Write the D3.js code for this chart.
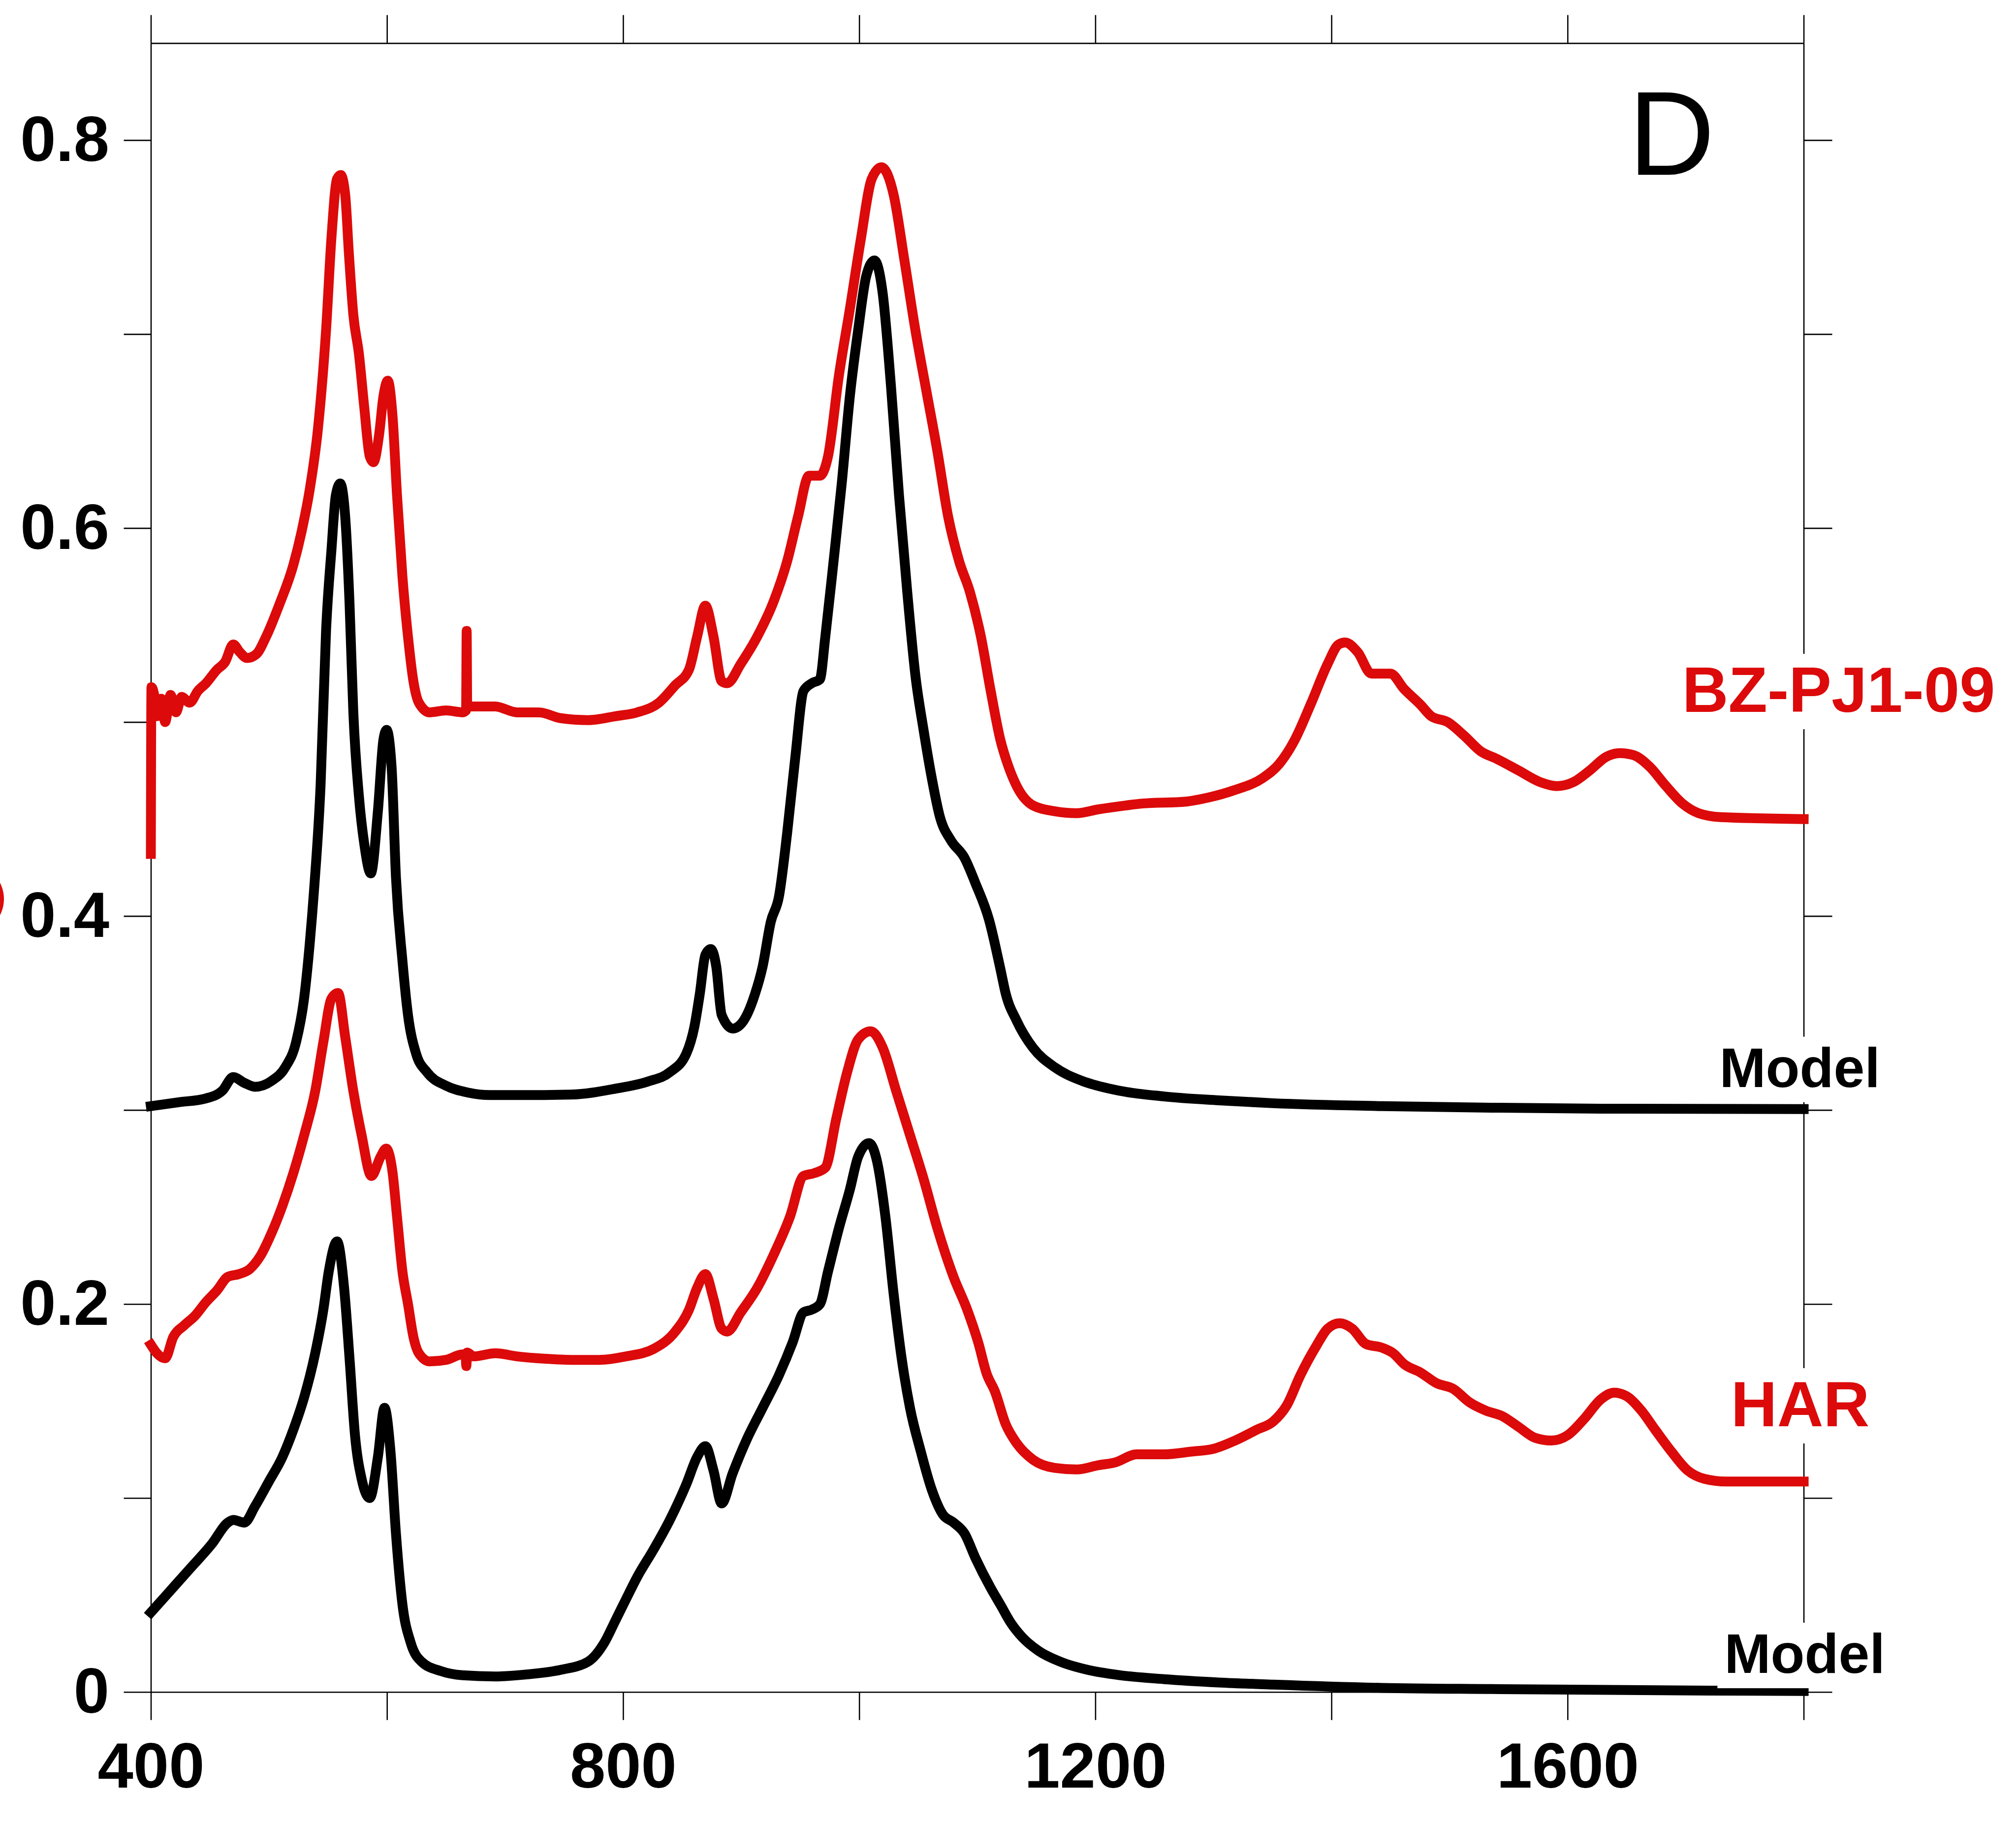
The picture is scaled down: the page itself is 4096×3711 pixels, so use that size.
<!DOCTYPE html>
<html>
<head>
<meta charset="utf-8">
<script src="https://cdn.jsdelivr.net/npm/d3@7"></script>
<style>
  html, body { margin: 0; padding: 0; background: #fff; }
  svg { display: block; }
  .axis path, .axis line { stroke: #000; stroke-width: 2.6; }
  .axis text { font-family: Arial, "Liberation Sans", sans-serif; font-weight: bold; font-size: 130px; fill: #000; }
</style>
</head>
<body>
<svg id="chart"></svg>
<script>
// tick values
var xTicks = [400, 600, 800, 1000, 1200, 1400, 1600, 1800];
var xLabels = [400, 800, 1200, 1600];
var yTicks = [0, 0.1, 0.2, 0.3, 0.4, 0.5, 0.6, 0.7, 0.8];
var yLabels = [0, 0.2, 0.4, 0.6, 0.8];

// series names, top to bottom
var seriesNames = ["BZ-PJ1-09", "Model", "HAR", "Model"];

// [wavenumber, absorbance]
var bzPJ109 = [
  [400, 0.432], [400.5, 0.518], [402.8, 0.514], [405.1, 0.503], [408.8, 0.512], [412.1, 0.500],
  [416.7, 0.514], [421.3, 0.505], [426.0, 0.513], [432.9, 0.510], [439.8, 0.516], [446.7, 0.520],
  [456.0, 0.527], [462.9, 0.531], [469.8, 0.540], [475.4, 0.536], [481.4, 0.533], [489.3, 0.535],
  [497.6, 0.544], [509.1, 0.561], [520.7, 0.581], [527.6, 0.598], [534.6, 0.620], [541.5, 0.651],
  [548.4, 0.702], [553.0, 0.750], [557.7, 0.780], [560.9, 0.782], [564.6, 0.772], [567.8, 0.741],
  [571.5, 0.710], [576.2, 0.690], [580.8, 0.662], [585.4, 0.637], [588.6, 0.634], [593.3, 0.648],
  [597.0, 0.668], [600.7, 0.676], [604.8, 0.657], [608.5, 0.617], [613.1, 0.575], [617.8, 0.544],
  [622.4, 0.521], [627.0, 0.510], [636.2, 0.505], [650.1, 0.506], [664.0, 0.505], [667.0, 0.506],
  [667.5, 0.547], [668.0, 0.508], [682.5, 0.508], [691.7, 0.508], [710.2, 0.505], [728.7, 0.505],
  [747.2, 0.502], [770.3, 0.501], [793.4, 0.503], [811.9, 0.505], [830.4, 0.510], [844.2, 0.519],
  [855.8, 0.527], [862.7, 0.544], [869.7, 0.560], [876.6, 0.544], [883.5, 0.521], [888.1, 0.520],
  [899.7, 0.530], [913.6, 0.544], [927.4, 0.562], [939.0, 0.583], [948.2, 0.606], [957.5, 0.627],
  [966.7, 0.627], [973.6, 0.637], [982.9, 0.679], [992.1, 0.713], [1001.4, 0.749], [1010.6, 0.780],
  [1018.9, 0.786], [1029.1, 0.772], [1038.3, 0.738], [1047.6, 0.702], [1056.8, 0.671], [1066.1, 0.640],
  [1075.3, 0.606], [1084.6, 0.583], [1093.8, 0.567], [1103.1, 0.544], [1111.4, 0.516], [1119.5, 0.491],
  [1126.5, 0.477], [1133.4, 0.467], [1147.3, 0.457], [1165.7, 0.454], [1184.2, 0.453], [1202.7, 0.455],
  [1225.8, 0.457], [1239.7, 0.458], [1276.7, 0.459], [1295.2, 0.461], [1318.3, 0.465], [1341.4, 0.471],
  [1355.2, 0.478], [1369.1, 0.491], [1383.0, 0.510], [1396.8, 0.530], [1406.1, 0.540], [1411.6, 0.541],
  [1422.3, 0.536], [1433.8, 0.525], [1450.0, 0.525], [1461.6, 0.517], [1475.4, 0.509], [1484.6, 0.503],
  [1498.5, 0.500], [1512.4, 0.493], [1526.3, 0.485], [1540.1, 0.481], [1558.6, 0.475], [1577.1, 0.469],
  [1591.0, 0.467], [1604.8, 0.469], [1618.7, 0.475], [1632.6, 0.482], [1644.1, 0.484], [1655.7, 0.483],
  [1669.5, 0.477], [1683.4, 0.467], [1697.3, 0.458], [1711.1, 0.453], [1729.6, 0.451], [1800, 0.450]
];

var modelUpper = [
  [400, 0.302], [423.6, 0.304], [446.7, 0.306], [460.6, 0.310], [469.8, 0.317], [479.1, 0.314],
  [488.3, 0.312], [502.2, 0.315], [513.8, 0.322], [523.0, 0.335], [529.9, 0.358], [534.6, 0.386],
  [538.3, 0.414], [543.8, 0.468], [548.4, 0.547], [553.0, 0.589], [556.7, 0.617], [560.4, 0.623],
  [564.6, 0.606], [568.3, 0.561], [571.5, 0.505], [576.2, 0.462], [580.8, 0.437], [586.3, 0.422],
  [592.3, 0.454], [597.0, 0.491], [599.7, 0.496], [603.9, 0.477], [607.6, 0.420], [613.1, 0.377],
  [617.8, 0.349], [624.7, 0.329], [633.9, 0.3195], [650.1, 0.3125], [668.6, 0.309], [687.1, 0.3077],
  [710.2, 0.3077], [756.4, 0.308], [793.4, 0.311], [821.1, 0.3147], [839.6, 0.3195], [853.5, 0.329],
  [860.4, 0.343], [865.0, 0.360], [869.7, 0.380], [874.3, 0.383], [878.9, 0.374], [883.5, 0.349],
  [892.8, 0.342], [902.0, 0.346], [911.3, 0.359], [918.2, 0.374], [925.1, 0.397], [932.0, 0.410],
  [939.0, 0.443], [945.9, 0.482], [952.8, 0.516], [959.8, 0.520], [966.7, 0.522], [971.3, 0.544],
  [978.3, 0.583], [985.2, 0.623], [992.1, 0.668], [999.1, 0.702], [1006.0, 0.730], [1012.9, 0.738],
  [1019.9, 0.721], [1026.8, 0.674], [1033.7, 0.617], [1040.7, 0.567], [1047.6, 0.524], [1054.5, 0.496],
  [1061.5, 0.471], [1068.4, 0.451], [1077.7, 0.439], [1089.2, 0.430], [1098.4, 0.417], [1110.0, 0.398],
  [1119.5, 0.373], [1124.1, 0.360], [1133.4, 0.346], [1147.3, 0.332], [1165.7, 0.322], [1188.9, 0.315],
  [1212.0, 0.311], [1258.2, 0.307], [1304.4, 0.305], [1350.6, 0.3035], [1443.1, 0.302], [1535.5, 0.3012],
  [1627.9, 0.3007], [1800, 0.3005]
];

var har = [
  [400, 0.179], [405.1, 0.1746], [412.1, 0.172], [419.0, 0.183], [428.3, 0.189], [437.5, 0.194],
  [446.7, 0.201], [456.0, 0.207], [465.2, 0.214], [474.5, 0.2154], [483.7, 0.218], [493.0, 0.225],
  [502.2, 0.2365], [511.4, 0.2506], [520.7, 0.2675], [529.9, 0.2871], [539.2, 0.3097], [546.1, 0.335],
  [553.0, 0.3575], [558.6, 0.3603], [564.6, 0.3378], [571.5, 0.3097], [578.5, 0.2871], [586.8, 0.266],
  [594.6, 0.2759], [599.3, 0.2801], [604.8, 0.2675], [608.5, 0.245], [613.1, 0.2168], [617.8, 0.200],
  [622.4, 0.183], [627.0, 0.1746], [636.2, 0.1704], [650.1, 0.1712], [664.0, 0.174], [666.5, 0.174],
  [667.2, 0.168], [668.0, 0.175], [673.2, 0.173], [691.7, 0.1746], [710.2, 0.173], [733.3, 0.1718],
  [756.4, 0.1712], [779.5, 0.1712], [802.6, 0.173], [825.7, 0.1768], [844.2, 0.1858], [855.8, 0.197],
  [862.7, 0.2083], [869.7, 0.2154], [876.6, 0.2027], [883.5, 0.1873], [888.1, 0.1858], [899.7, 0.1957],
  [913.6, 0.2083], [927.4, 0.2252], [941.3, 0.2449], [952.8, 0.266], [962.1, 0.2675], [971.3, 0.2703],
  [980.6, 0.2956], [989.8, 0.3195], [999.1, 0.3364], [1009.7, 0.3406], [1019.9, 0.3322], [1031.4, 0.3097],
  [1043.0, 0.2871], [1054.5, 0.2646], [1066.1, 0.2393], [1079.9, 0.214], [1091.5, 0.197], [1100.8, 0.1802],
  [1108.0, 0.164], [1114.9, 0.155], [1124.1, 0.138], [1133.4, 0.1282], [1147.3, 0.1197], [1165.7, 0.1155],
  [1184.2, 0.1147], [1202.7, 0.1169], [1216.6, 0.1183], [1235.1, 0.1225], [1258.2, 0.1225], [1281.3, 0.1239],
  [1299.8, 0.1253], [1318.3, 0.1296], [1336.8, 0.1352], [1350.6, 0.1394], [1362.2, 0.1478], [1373.7, 0.1633],
  [1387.6, 0.1788], [1396.8, 0.1873], [1407.0, 0.1901], [1417.6, 0.1873], [1429.2, 0.1794], [1443.1, 0.1774],
  [1452.3, 0.1746], [1461.6, 0.169], [1475.4, 0.1647], [1489.3, 0.1591], [1503.1, 0.1563], [1517.0, 0.1493],
  [1530.9, 0.145], [1544.7, 0.1422], [1558.6, 0.1366], [1572.5, 0.131], [1586.3, 0.1296], [1600.2, 0.1324],
  [1614.1, 0.1408], [1627.9, 0.1507], [1639.5, 0.1543], [1651.0, 0.1521], [1662.6, 0.145], [1674.2, 0.1352],
  [1688.0, 0.1239], [1701.9, 0.1141], [1715.8, 0.1099], [1734.2, 0.1085], [1800, 0.1085]
];

var modelLower = [
  [400, 0.041], [414.4, 0.0508], [432.9, 0.0634], [451.4, 0.0761], [465.2, 0.0873], [469.8, 0.0887],
  [479.1, 0.0873], [488.3, 0.0958], [499.9, 0.1084], [511.4, 0.1211], [520.7, 0.1352], [529.9, 0.152],
  [539.2, 0.1746], [546.1, 0.197], [550.7, 0.2168], [557.7, 0.2323], [563.7, 0.2083], [568.3, 0.1718],
  [572.9, 0.1324], [578.5, 0.1099], [585.4, 0.100], [592.3, 0.1211], [597.9, 0.1465], [603.0, 0.1239],
  [607.6, 0.0817], [613.1, 0.0451], [620.1, 0.0254], [629.3, 0.0156], [645.5, 0.0108], [664.0, 0.0086],
  [691.7, 0.008], [719.4, 0.0091], [747.2, 0.0114], [770.3, 0.0156], [784.1, 0.0254], [793.4, 0.0367],
  [802.6, 0.048], [811.9, 0.0592], [825.7, 0.0733], [839.6, 0.0887], [853.5, 0.107], [862.7, 0.1211],
  [869.7, 0.1267], [876.6, 0.1141], [883.5, 0.0972], [892.8, 0.1127], [904.3, 0.1296], [918.2, 0.1465],
  [932.0, 0.1633], [943.6, 0.1802], [952.8, 0.1957], [959.8, 0.1971], [966.7, 0.1999], [973.6, 0.2168],
  [982.9, 0.2393], [992.1, 0.259], [999.1, 0.2759], [1008.3, 0.2829], [1015.3, 0.273], [1022.2, 0.245],
  [1029.1, 0.2055], [1036.0, 0.1718], [1043.0, 0.1465], [1052.2, 0.1239], [1061.5, 0.1042], [1070.7, 0.0916],
  [1080.0, 0.0873], [1089.2, 0.0817], [1098.4, 0.0691], [1111.4, 0.0536], [1119.5, 0.0451], [1128.8, 0.0353],
  [1138.0, 0.0283], [1151.9, 0.0212], [1170.4, 0.0156], [1193.5, 0.0114], [1221.2, 0.0086], [1258.2, 0.0066],
  [1304.4, 0.0049], [1350.6, 0.0038], [1443.1, 0.0021], [1535.5, 0.0015], [1720.4, 0.0007], [1800, 0.0005]
];

var red = "#dc0a0a";
var W = 4096, H = 3711;

var svg = d3.select("#chart")
    .attr("width", W)
    .attr("height", H);

svg.append("rect").attr("width", W).attr("height", H).attr("fill", "#fff");

var x = d3.scaleLinear().domain([400, 1800]).range([306.5, 3664.6]);
var y = d3.scaleLinear().domain([0, 0.85]).range([3436.7, 87.6]);

// frame + ticks
svg.append("g")
    .attr("class", "axis")
    .attr("transform", "translate(0," + y(0) + ")")
    .call(d3.axisBottom(x).tickValues(xTicks).tickSize(57).tickSizeOuter(0).tickPadding(44.7)
        .tickFormat(function(d){ return xLabels.indexOf(d) >= 0 ? d : ""; }));

svg.append("g")
    .attr("class", "axis")
    .attr("transform", "translate(0," + y(0.85) + ")")
    .call(d3.axisTop(x).tickValues(xTicks).tickSize(57).tickSizeOuter(0).tickFormat(""));

svg.append("g")
    .attr("class", "axis")
    .attr("transform", "translate(" + x(400) + ",0)")
    .call(d3.axisLeft(y).tickValues(yTicks).tickSize(55).tickSizeOuter(0).tickPadding(29.5)
        .tickFormat(function(d){
            var lab = yLabels.filter(function(v){ return Math.abs(v - d) < 1e-9; });
            if(!lab.length) return "";
            return d === 0 ? "0" : d3.format(".1f")(d);
        }));

svg.append("g")
    .attr("class", "axis")
    .attr("transform", "translate(" + x(1800) + ",0)")
    .call(d3.axisRight(y).tickValues(yTicks).tickSize(58).tickSizeOuter(0).tickFormat(""));

// bit of the cropped red axis title at the left edge
svg.append("ellipse")
    .attr("cx", -60)
    .attr("cy", 1826)
    .attr("rx", 68)
    .attr("ry", 70)
    .attr("fill", red);

// spectra
var line = d3.line()
    .x(function(d){ return x(d[0]); })
    .y(function(d){ return y(d[1]); })
    .curve(d3.curveMonotoneX);

var series = [
    {data: bzPJ109, color: red},
    {data: modelUpper, color: "#000"},
    {data: har, color: red},
    {data: modelLower, color: "#000"}
];

svg.append("g")
    .selectAll("path")
    .data(series).enter()
    .append("path")
    .attr("d", function(d){ return line(d.data); })
    .attr("fill", "none")
    .attr("stroke", function(d){ return d.color; })
    .attr("stroke-width", 20)
    .attr("stroke-linejoin", "round")
    .attr("stroke-linecap", "square");

// curve labels sit on the right frame, with a white box behind
var labels = [
    {text: seriesNames[0], v: 0.5052, dx: 71, size: 130, color: red},
    {text: seriesNames[1], v: 0.3119, dx: -8, size: 113, color: "#000"},
    {text: seriesNames[2], v: 0.137, dx: -7, size: 130, color: red},
    {text: seriesNames[3], v: 0.0098, dx: 2, size: 113, color: "#000"}
];

var lab = svg.append("g")
    .selectAll("g")
    .data(labels).enter()
    .append("g");

lab.append("text")
    .attr("x", function(d){ return x(1800) + d.dx; })
    .attr("y", function(d){ return y(d.v); })
    .attr("text-anchor", "middle")
    .attr("font-family", "Arial, 'Liberation Sans', sans-serif")
    .attr("font-weight", "bold")
    .attr("font-size", function(d){ return d.size; })
    .attr("fill", function(d){ return d.color; })
    .text(function(d){ return d.text; });

lab.each(function(){
    var g = d3.select(this);
    var bb = g.select("text").node().getBBox();
    g.insert("rect", "text")
        .attr("x", bb.x - 14)
        .attr("y", bb.y)
        .attr("width", bb.width + 28)
        .attr("height", bb.height + 7)
        .attr("fill", "#fff");
});

// panel letter
svg.append("text")
    .attr("x", x(1800) - 356)
    .attr("y", 355)
    .attr("font-family", "Arial, 'Liberation Sans', sans-serif")
    .attr("font-size", 243)
    .attr("fill", "#000")
    .text("D");
</script>
</body>
</html>
